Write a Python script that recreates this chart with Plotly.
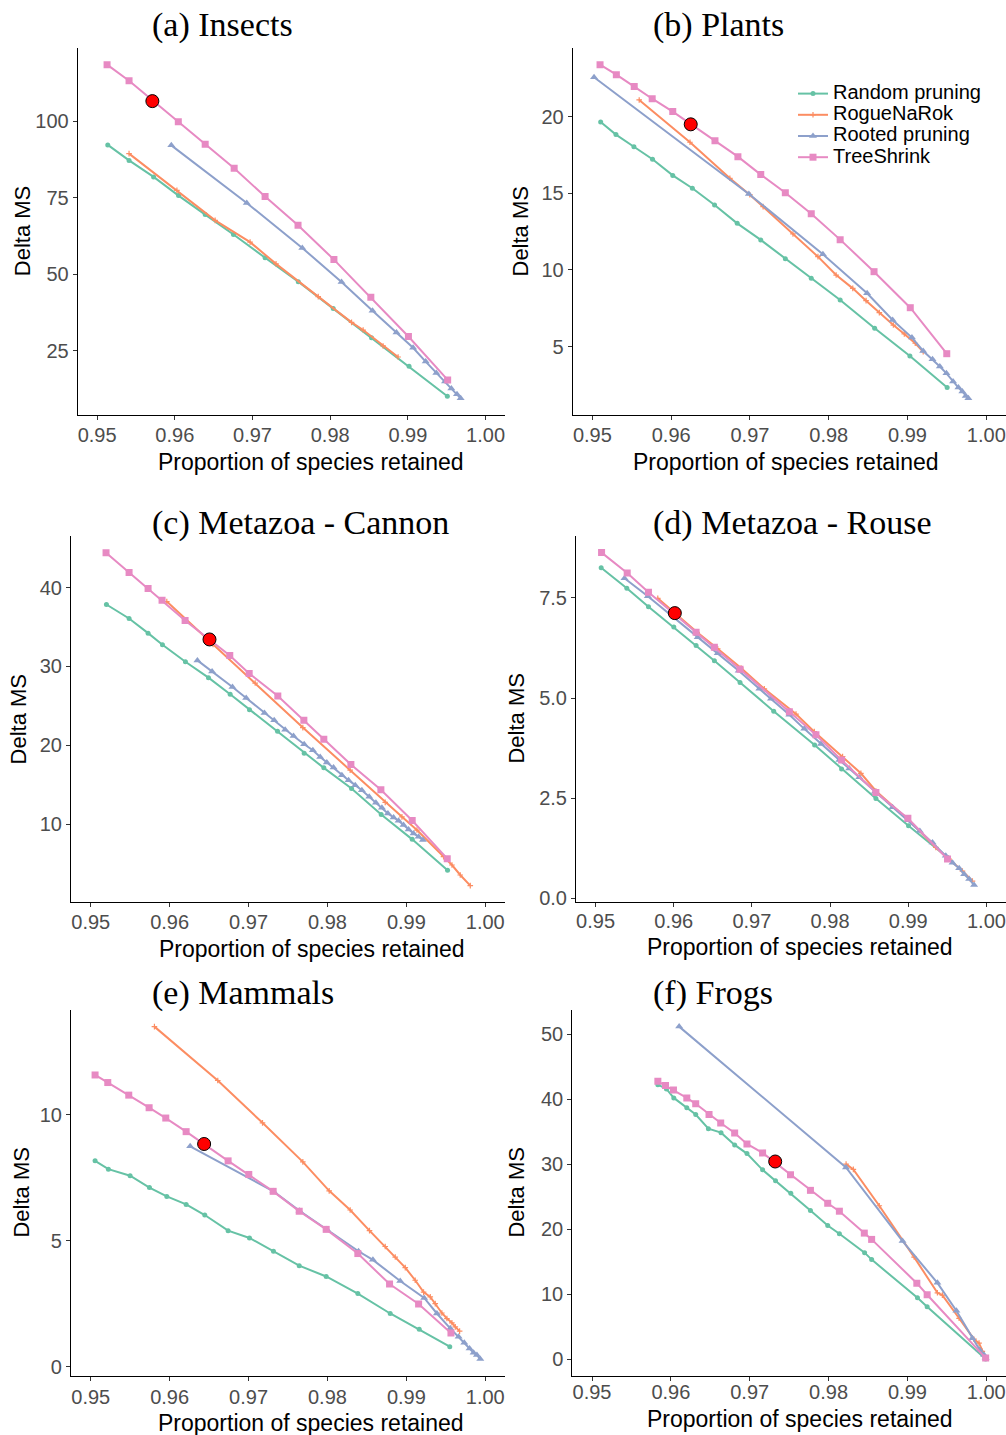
import plotly.graph_objects as go

# ---------------- data ----------------
methods = ["Random pruning", "RogueNaRok", "Rooted pruning", "TreeShrink"]
panel_titles = ["(a) Insects", "(b) Plants", "(c) Metazoa - Cannon",
                "(d) Metazoa - Rouse", "(e) Mammals", "(f) Frogs"]
x_ticks = [0.95, 0.96, 0.97, 0.98, 0.99, 1.00]

# (a) Insects
insects_random_x = [0.95137, 0.95411, 0.95727, 0.96048, 0.96391, 0.96755, 0.97162, 0.97589, 0.98039, 0.98532, 0.99015, 0.99508]
insects_random_y = [92.25, 87.2, 81.8, 75.7, 69.5, 63.0, 55.4, 47.6, 38.8, 29.3, 20.0, 10.2]
insects_rogue_x = [0.95411, 0.96027, 0.96519, 0.96969, 0.97303, 0.97846, 0.98275, 0.98424, 0.98681, 0.98874]
insects_rogue_y = [89.4, 77.4, 67.6, 60.5, 53.4, 42.7, 34.3, 31.8, 26.6, 23.0]
insects_rooted_x = [0.95955, 0.96926, 0.97641, 0.98146, 0.98545, 0.98853, 0.99067, 0.99229, 0.99366, 0.99478, 0.99559, 0.99632, 0.99679]
insects_rooted_y = [92.1, 73.3, 58.6, 47.5, 38.1, 31.0, 26.0, 21.5, 17.8, 15.0, 12.7, 10.8, 9.5]
insects_shrink_x = [0.95128, 0.95411, 0.96045, 0.96391, 0.96764, 0.97162, 0.97586, 0.98048, 0.98523, 0.99007, 0.99512]
insects_shrink_y = [118.45, 113.2, 99.8, 92.5, 84.6, 75.4, 66.0, 54.8, 42.5, 29.7, 15.5]
insects_default = (0.95711, 106.55)
insects_yticks = [25, 50, 75, 100]

# (b) Plants
plants_random_x = [0.95105, 0.95299, 0.95527, 0.95763, 0.96020, 0.96269, 0.96551, 0.96838, 0.97137, 0.97449, 0.97778, 0.98145, 0.98583, 0.99030, 0.99503]
plants_random_y = [19.65, 18.83, 18.04, 17.22, 16.17, 15.33, 14.24, 13.04, 11.96, 10.74, 9.46, 8.04, 6.2, 4.39, 2.33]
plants_rogue_x = [0.95594, 0.96239, 0.96745, 0.96998, 0.97167, 0.97546, 0.97863, 0.98094, 0.98305, 0.98474, 0.98642, 0.98820, 0.98959, 0.99098, 0.99199]
plants_rogue_y = [21.09, 18.33, 15.98, 14.91, 14.13, 12.35, 10.87, 9.67, 8.8, 8.0, 7.22, 6.41, 5.83, 5.22, 4.67]
plants_rooted_x = [0.95021, 0.96986, 0.97926, 0.98487, 0.98811, 0.99056, 0.99199, 0.99317, 0.99410, 0.99494, 0.99578, 0.99646, 0.99696, 0.99739, 0.99772]
plants_rooted_y = [22.57, 14.96, 11.02, 8.48, 6.74, 5.59, 4.72, 4.17, 3.7, 3.26, 2.72, 2.33, 2.07, 1.78, 1.63]
plants_shrink_x = [0.95097, 0.95304, 0.95531, 0.95759, 0.96020, 0.96556, 0.96847, 0.97137, 0.97449, 0.97778, 0.98145, 0.98575, 0.99035, 0.99498]
plants_shrink_y = [23.39, 22.74, 21.96, 21.17, 20.33, 18.43, 17.39, 16.22, 15.04, 13.67, 11.98, 9.89, 7.54, 4.54]
plants_default = (0.96248, 19.5)
plants_yticks = [5, 10, 15, 20]

# (c) Metazoa - Cannon
cannon_random_x = [0.95199, 0.95486, 0.95727, 0.95909, 0.96200, 0.96492, 0.96767, 0.97012, 0.97367, 0.97705, 0.97954, 0.98305, 0.98681, 0.99074, 0.99522]
cannon_random_y = [37.85, 36.08, 34.22, 32.74, 30.59, 28.57, 26.46, 24.51, 21.77, 18.99, 17.13, 14.51, 11.22, 8.06, 4.14]
cannon_rogue_x = [0.95964, 0.96550, 0.97084, 0.97688, 0.98288, 0.98732, 0.98944, 0.99134, 0.99471, 0.99578, 0.99683, 0.99810]
cannon_rogue_y = [38.23, 32.8, 27.89, 22.24, 16.84, 12.75, 10.92, 9.24, 5.86, 4.81, 3.54, 2.19]
cannon_rooted_x = [0.96352, 0.96538, 0.96796, 0.96970, 0.97202, 0.97325, 0.97464, 0.97570, 0.97705, 0.97815, 0.97908, 0.97992, 0.98077, 0.98183,
                   0.98267, 0.98352, 0.98436, 0.98529, 0.98614, 0.98690, 0.98766, 0.98838, 0.98901, 0.98964, 0.99028, 0.99091, 0.99155, 0.99210]
cannon_rooted_y = [30.76, 29.37, 27.38, 25.99, 24.09, 23.16, 21.98, 21.18, 20.13, 19.37, 18.52, 17.81, 17.17, 16.2,
                   15.57, 14.94, 14.3, 13.46, 12.7, 12.07, 11.35, 10.84, 10.42, 9.87, 9.32, 8.82, 8.4, 7.97]
cannon_shrink_x = [0.95194, 0.95486, 0.95727, 0.95904, 0.96196, 0.96762, 0.97008, 0.97371, 0.97701, 0.97954, 0.98297, 0.98677, 0.99074, 0.99518]
cannon_shrink_y = [44.43, 41.9, 39.87, 38.4, 35.82, 31.39, 29.11, 26.24, 23.16, 20.76, 17.55, 14.35, 10.46, 5.61]
cannon_default = (0.96505, 33.42)
cannon_yticks = [10, 20, 30, 40]

# (d) Metazoa - Rouse
rouse_random_x = [0.95072, 0.95400, 0.95677, 0.96001, 0.96286, 0.96520, 0.96848, 0.97279, 0.97802, 0.98147, 0.98586, 0.99003, 0.99502]
rouse_random_y = [8.25, 7.74, 7.28, 6.77, 6.31, 5.93, 5.39, 4.67, 3.83, 3.23, 2.49, 1.81, 1.02]
rouse_rogue_x = [0.95796, 0.96299, 0.96563, 0.96861, 0.97159, 0.97564, 0.97798, 0.98160, 0.98394, 0.98586, 0.98991, 0.99353, 0.99523, 0.99693, 0.99821]
rouse_rogue_y = [7.49, 6.64, 6.23, 5.75, 5.23, 4.6, 4.16, 3.54, 3.12, 2.68, 1.98, 1.27, 0.98, 0.68, 0.43]
rouse_rooted_x = [0.95370, 0.95669, 0.96307, 0.96563, 0.96831, 0.97095, 0.97244, 0.97479, 0.97670, 0.97883, 0.98118, 0.98245,
                  0.98373, 0.98573, 0.98799, 0.98991, 0.99148, 0.99310, 0.99480, 0.99566, 0.99651, 0.99715, 0.99779, 0.99842]
rouse_rooted_y = [7.99, 7.54, 6.52, 6.12, 5.68, 5.23, 4.98, 4.58, 4.23, 3.85, 3.45, 3.24,
                  3.02, 2.66, 2.27, 1.95, 1.68, 1.39, 1.06, 0.89, 0.75, 0.6, 0.48, 0.33]
rouse_shrink_x = [0.95077, 0.95405, 0.95677, 0.96286, 0.96520, 0.96848, 0.97479, 0.97819, 0.98147, 0.98586, 0.98995, 0.99502]
rouse_shrink_y = [8.63, 8.12, 7.64, 6.64, 6.27, 5.72, 4.66, 4.08, 3.45, 2.64, 2.0, 0.98]
rouse_default = (0.96014, 7.12)
rouse_yticks = [0.0, 2.5, 5.0, 7.5]

# (e) Mammals
mammals_random_x = [0.95055, 0.95224, 0.95499, 0.95744, 0.95964, 0.96209, 0.96445, 0.96741, 0.97012, 0.97316, 0.97642, 0.97984, 0.98385, 0.98795, 0.99163, 0.99550]
mammals_random_y = [8.17, 7.84, 7.58, 7.11, 6.76, 6.44, 6.02, 5.40, 5.11, 4.58, 4.01, 3.58, 2.90, 2.11, 1.48, 0.79]
mammals_rogue_x = [0.95807, 0.96610, 0.97177, 0.97688, 0.98022, 0.98288, 0.98533, 0.98732, 0.98859, 0.98986, 0.99112, 0.99218,
                   0.99303, 0.99366, 0.99450, 0.99514, 0.99577, 0.99620, 0.99675]
mammals_rogue_y = [13.5, 11.36, 9.68, 8.13, 6.98, 6.22, 5.40, 4.77, 4.35, 3.93, 3.43, 2.96,
                   2.77, 2.50, 2.13, 1.91, 1.74, 1.58, 1.41]
mammals_rooted_x = [0.96260, 0.97316, 0.97646, 0.97992, 0.98394, 0.98576, 0.98922, 0.99226, 0.99387, 0.99556, 0.99662, 0.99734,
                    0.99801, 0.99852, 0.99894, 0.99937]
mammals_rooted_y = [8.75, 6.96, 6.19, 5.45, 4.58, 4.24, 3.40, 2.73, 2.11, 1.52, 1.19, 0.95,
                    0.72, 0.55, 0.46, 0.30]
mammals_shrink_x = [0.95055, 0.95216, 0.95482, 0.95740, 0.95951, 0.96209, 0.96741, 0.97003, 0.97312, 0.97642, 0.97984, 0.98385, 0.98787, 0.99155, 0.99565]
mammals_shrink_y = [11.58, 11.28, 10.78, 10.28, 9.87, 9.33, 8.17, 7.63, 6.96, 6.17, 5.45, 4.49, 3.28, 2.49, 1.34]
mammals_default = (0.96437, 8.84)
mammals_yticks = [0, 5, 10]

# (f) Frogs
frogs_random_x = [0.95835, 0.95944, 0.96037, 0.96202, 0.96315, 0.96476, 0.96636, 0.96809, 0.96965, 0.97163, 0.97327, 0.97521,
                  0.97770, 0.97989, 0.98137, 0.98457, 0.98546, 0.99127, 0.99250, 0.99992]
frogs_random_y = [42.24, 41.58, 40.2, 38.67, 37.65, 35.46, 34.85, 32.96, 31.63, 29.13, 27.45, 25.51,
                  22.86, 20.56, 19.29, 16.38, 15.31, 9.44, 8.06, 0.0]
frogs_rogue_x = [0.98222, 0.98314, 0.98643, 0.99085, 0.99380, 0.99443, 0.99655, 0.99844, 0.99908, 0.99950, 0.99992]
frogs_rogue_y = [30.0, 29.2, 23.6, 15.7, 10.2, 9.84, 6.28, 3.06, 2.45, 1.2, 0.15]
frogs_rooted_x = [0.96105, 0.98221, 0.98938, 0.99380, 0.99621, 0.99823, 0.99916, 0.99971, 0.99992]
frogs_rooted_y = [51.17, 29.49, 18.16, 11.73, 7.45, 3.21, 1.43, 0.66, 0.15]
frogs_shrink_x = [0.95835, 0.95932, 0.96033, 0.96202, 0.96315, 0.96484, 0.96632, 0.96809, 0.96965, 0.97163, 0.97517, 0.97770,
                  0.97989, 0.98137, 0.98453, 0.98546, 0.99119, 0.99250, 0.99992]
frogs_shrink_y = [42.76, 42.09, 41.43, 40.2, 39.29, 37.65, 36.33, 34.8, 33.11, 31.73, 28.37, 25.97,
                  23.98, 22.76, 19.39, 18.42, 11.68, 9.9, 0.15]
frogs_default = (0.97323, 30.41)
frogs_yticks = [0, 10, 20, 30, 40, 50]

# ---------------- styling ----------------
W, H = 1006, 1435
colors = ["#66C2A5", "#FC8D62", "#8DA0CB", "#E78AC3"]
symbols = ["circle", "cross-thin", "triangle-up", "square"]
msizes = [5, 4, 7, 7]

panels = [
    dict(series=[(insects_random_x, insects_random_y), (insects_rogue_x, insects_rogue_y),
                 (insects_rooted_x, insects_rooted_y), (insects_shrink_x, insects_shrink_y)],
         dot=insects_default, yticks=insects_yticks, fmt="d", xstand=-2,
         box=(77.7, 505, 48, 415), title_xy=(150, 25), ytitle_x=22.7, xtitle_xy=(311, 462)),
    dict(series=[(plants_random_x, plants_random_y), (plants_rogue_x, plants_rogue_y),
                 (plants_rooted_x, plants_rooted_y), (plants_shrink_x, plants_shrink_y)],
         dot=plants_default, yticks=plants_yticks, fmt="d", xstand=-2,
         box=(572.7, 1006, 48, 415), title_xy=(651, 25), ytitle_x=520, xtitle_xy=(786, 462)),
    dict(series=[(cannon_random_x, cannon_random_y), (cannon_rogue_x, cannon_rogue_y),
                 (cannon_rooted_x, cannon_rooted_y), (cannon_shrink_x, cannon_shrink_y)],
         dot=cannon_default, yticks=cannon_yticks, fmt="d", xstand=-2,
         box=(71, 505, 536, 902.3), title_xy=(150, 523), ytitle_x=18.3, xtitle_xy=(312, 948.5)),
    dict(series=[(rouse_random_x, rouse_random_y), (rouse_rogue_x, rouse_rogue_y),
                 (rouse_rooted_x, rouse_rooted_y), (rouse_shrink_x, rouse_shrink_y)],
         dot=rouse_default, yticks=rouse_yticks, fmt=".1f", xstand=-3,
         box=(576, 1006, 536, 901.7), title_xy=(651, 523), ytitle_x=516.7, xtitle_xy=(800, 947)),
    dict(series=[(mammals_random_x, mammals_random_y), (mammals_rogue_x, mammals_rogue_y),
                 (mammals_rooted_x, mammals_rooted_y), (mammals_shrink_x, mammals_shrink_y)],
         dot=mammals_default, yticks=mammals_yticks, fmt="d", xstand=-1,
         box=(71, 505, 1010, 1375.7), title_xy=(150, 993), ytitle_x=21.7, xtitle_xy=(311, 1423)),
    dict(series=[(frogs_random_x, frogs_random_y), (frogs_rogue_x, frogs_rogue_y),
                 (frogs_rooted_x, frogs_rooted_y), (frogs_shrink_x, frogs_shrink_y)],
         dot=frogs_default, yticks=frogs_yticks, fmt="d", xstand=-6,
         box=(572.3, 1006, 1010, 1375.7), title_xy=(651, 993), ytitle_x=516.7, xtitle_xy=(800, 1419)),
]

SANS = "Liberation Sans, Arial, Helvetica, sans-serif"
SERIF = "Liberation Serif, Times New Roman, serif"

fig = go.Figure()
layout = dict(width=W, height=H, margin=dict(l=0, r=0, t=0, b=0),
              paper_bgcolor="white", plot_bgcolor="white", showlegend=True,
              legend=dict(x=793 / W, y=1 - 78 / H, xanchor="left", yanchor="top",
                          bgcolor="rgba(0,0,0,0)", borderwidth=0,
                          font=dict(family=SANS, size=14, color="black"),
                          tracegroupgap=0, itemsizing="trace"))
annotations = []

for i, p in enumerate(panels):
    n = i + 1
    xa = "x" if n == 1 else f"x{n}"
    ya = "y" if n == 1 else f"y{n}"
    for k, (sx, sy) in enumerate(p["series"]):
        marker = dict(symbol=symbols[k], size=msizes[k], color=colors[k])
        if symbols[k] == "cross-thin":
            marker["line"] = dict(color=colors[k], width=1.2)
        fig.add_trace(go.Scatter(
            x=sx, y=sy, mode="lines+markers",
            name=f"<span style='font-size:20px'>{methods[k]}</span>",
            line=dict(color=colors[k], width=2), marker=marker,
            showlegend=(n == 2), xaxis=xa, yaxis=ya, hoverinfo="skip"))
    fig.add_trace(go.Scatter(
        x=[p["dot"][0]], y=[p["dot"][1]], mode="markers", showlegend=False,
        marker=dict(symbol="circle", size=13, color="#FF0000", line=dict(color="black", width=1)),
        xaxis=xa, yaxis=ya, hoverinfo="skip"))

    ally = [v for _, sy in p["series"] for v in sy]
    lo, hi = min(ally), max(ally)
    pad = 0.05 * (hi - lo)
    x0, x1, top, bot = p["box"]
    axis_common = dict(showline=True, linecolor="black", linewidth=1.1, ticks="outside",
                       ticklen=4, tickwidth=1, tickcolor="#333333", showgrid=False,
                       zeroline=False, automargin=False,
                       tickfont=dict(family=SANS, size=20, color="#4D4D4D"))
    layout["xaxis" if n == 1 else f"xaxis{n}"] = dict(
        domain=[x0 / W, x1 / W], range=[0.9475, 1.0025], anchor=ya,
        tickvals=x_ticks, tickformat=".2f", ticklabelstandoff=p["xstand"], **axis_common)
    layout["yaxis" if n == 1 else f"yaxis{n}"] = dict(
        domain=[1 - bot / H, 1 - top / H], range=[lo - pad, hi + pad], anchor=xa,
        tickvals=p["yticks"], tickformat=p["fmt"], **axis_common)

    tx, ty = p["title_xy"]
    annotations.append(dict(text=panel_titles[i], x=tx / W, y=1 - ty / H, xref="paper", yref="paper",
                            xanchor="left", yanchor="middle", showarrow=False,
                            font=dict(family=SERIF, size=34, color="black")))
    annotations.append(dict(text="Delta MS", x=p["ytitle_x"] / W, y=1 - (top + bot) / 2 / H,
                            xref="paper", yref="paper", xanchor="center", yanchor="middle",
                            textangle=-90, showarrow=False,
                            font=dict(family=SANS, size=22, color="black")))
    xtx, xty = p["xtitle_xy"]
    annotations.append(dict(text="Proportion of species retained", x=xtx / W, y=1 - xty / H,
                            xref="paper", yref="paper", xanchor="center", yanchor="middle",
                            showarrow=False, font=dict(family=SANS, size=23, color="black")))

layout["annotations"] = annotations
fig.update_layout(**layout)
fig.write_html("out.html")
